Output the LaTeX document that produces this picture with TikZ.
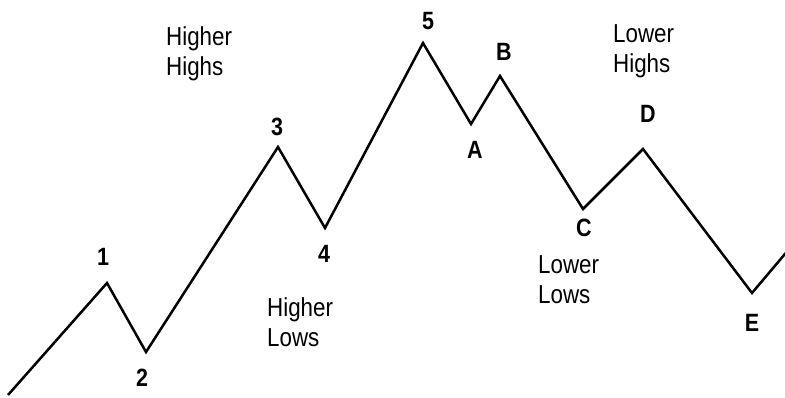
\documentclass[tikz,border=0pt]{standalone}
\usepackage{fontspec}
\setmainfont{Liberation Sans}[FakeStretch=0.86]
\usetikzlibrary{positioning}

\tikzset{
  wave/.style={line width=2.5pt, line join=miter},
  ptlabel/.style={font=\fontsize{25}{25}\selectfont\bfseries, inner sep=0pt},
  trendnote/.style={font=\fontsize{26}{30}\selectfont, align=left, inner sep=0pt, anchor=north west}
}

\begin{document}
\begin{tikzpicture}[x=1pt,y=-1pt]
        \useasboundingbox (0,0) rectangle (785,397);
        % turning points of the price line
        \foreach \n/\x/\y in {s/8/395,1/107/283,2/146/352,3/278/147,4/325/228,5/423/43,A/471/124,B/500/76,C/583/209,D/643/149,E/752/293,t/790/248} {
            \coordinate (w\n) at (\x,\y);
        }
        \draw[wave] (ws) -- (w1) -- (w2) -- (w3) -- (w4) -- (w5) -- (wA) -- (wB) -- (wC) -- (wD) -- (wE) -- (wt);

        \foreach \n/\x/\y in {1/103/257,2/142/378,3/277/127,4/324/254,5/428/21,A/475/150,B/504/52,C/584/228,D/648/114,E/752/323} {
            \node[ptlabel] (l\n) at (\x,\y) {\n};
        }

        \node[trendnote] (hh) at (166,26) {Higher\\Highs};
        \node[trendnote] (lh) at (613,24) {Lower\\Highs};
        \node[trendnote] (hl) at (267,297) {Higher\\Lows};
        \node[trendnote] (ll) at (538,255) {Lower\\Lows};
    \end{tikzpicture}
\end{document}
